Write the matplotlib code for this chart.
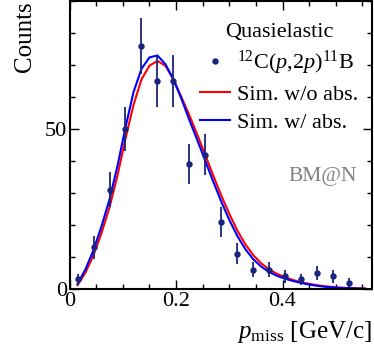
import numpy as np
import matplotlib
matplotlib.use("Agg")
import matplotlib.pyplot as plt
from matplotlib.lines import Line2D
from matplotlib.ticker import MultipleLocator, FixedLocator

plt.rcParams['font.family'] = ['Liberation Serif', 'DejaVu Serif']
plt.rcParams['mathtext.fontset'] = 'custom'
plt.rcParams['mathtext.rm'] = 'Liberation Serif'
plt.rcParams['mathtext.it'] = 'Liberation Serif:italic'

# measured p_miss distribution (bin centres, counts, errors)
p_miss = [0.015, 0.045, 0.075, 0.105, 0.135, 0.165, 0.195, 0.225, 0.255,
          0.285, 0.315, 0.345, 0.375, 0.405, 0.435, 0.465, 0.495, 0.525]
counts = [3, 13, 31, 50, 76, 65, 65, 39, 42, 21, 11, 6, 6, 4, 3, 5, 4, 2]
errors = [1.7, 3.6, 5.5, 7.0, 8.7, 8.0, 8.0, 6.2, 6.5, 4.6, 3.3, 2.4, 2.4,
          2.0, 1.7, 2.2, 2.0, 1.4]

# simulation curves
sim_x = [0.015, 0.03, 0.045, 0.06, 0.075, 0.09, 0.105, 0.12, 0.135, 0.15,
         0.165, 0.18, 0.195, 0.21, 0.225, 0.24, 0.255, 0.27, 0.285, 0.30,
         0.315, 0.33, 0.345, 0.36, 0.375, 0.39, 0.405, 0.42, 0.435, 0.45,
         0.465, 0.48, 0.495, 0.51, 0.525, 0.54, 0.555]
sim_noabs = [1.2, 5.2, 10.6, 17.5, 25.5, 35.5, 47.0, 57.5, 65.5, 69.8,
             71.3, 69.8, 65.6, 60.0, 54.3, 48.2, 41.8, 35.4, 29.2, 23.5,
             18.3, 14.0, 10.6, 8.0, 6.1, 4.7, 3.7, 2.8, 2.1, 1.6,
             1.2, 0.85, 0.6, 0.42, 0.3, 0.2, 0.14]
sim_abs = [1.6, 6.2, 12.2, 19.6, 28.0, 38.5, 50.5, 61.5, 68.8, 72.4,
           73.0, 70.3, 65.5, 59.5, 52.8, 46.5, 40.0, 33.5, 27.3, 21.6,
           16.6, 12.5, 9.3, 7.0, 5.3, 4.1, 3.2, 2.5, 1.9, 1.4,
           1.0, 0.7, 0.5, 0.35, 0.25, 0.18, 0.12]

navy = '#1a237e'

fig = plt.figure(figsize=(3.74, 3.61), dpi=100)
ax = fig.add_axes([0.186, 0.1994, 0.8087, 0.7976])

ax.plot(sim_x, sim_noabs, color='red', lw=1.5)
ax.plot(sim_x, sim_abs, color='blue', lw=1.5)
ax.errorbar(p_miss, counts, yerr=errors, fmt='o', ms=3.6, color=navy,
            ecolor=navy, elinewidth=1.3, capsize=0)

ax.set_xlim(0, 0.568)
ax.set_ylim(0, 90)
ax.xaxis.set_major_locator(FixedLocator([0, 0.2, 0.4]))
ax.xaxis.set_minor_locator(MultipleLocator(0.05))
ax.yaxis.set_major_locator(FixedLocator([0, 50]))
ax.yaxis.set_minor_locator(MultipleLocator(10))
ax.set_xticklabels(['0', '0.2', '0.4'])
ax.set_yticklabels(['0', '50'])
ax.tick_params(which='both', direction='in', top=True, right=True,
               labelsize=16, width=1.0)
ax.tick_params(axis='x', which='major', length=6.5, pad=2.4)
ax.tick_params(axis='y', which='major', length=6.5, pad=1.8)
ax.tick_params(which='minor', length=3.6)
for s in ax.spines.values():
    s.set_linewidth(1.5)

ax.set_xlabel(r'$p_{\rm miss}$ [GeV/c]', fontsize=18, loc='right')
ax.xaxis.set_label_coords(1.0, -0.105)
ax.set_ylabel('Counts', fontsize=18, loc='top')
ax.yaxis.set_label_coords(-0.11, 1.0)

handles = [Line2D([], [], ls='none', marker='o', ms=3.6, color=navy),
           Line2D([], [], color='red', lw=1.5),
           Line2D([], [], color='blue', lw=1.5)]
labels = [r'$^{12}$C($p$,2$p$)$^{11}$B', 'Sim. w/o abs.', 'Sim. w/ abs.']
ax.legend(handles, labels, title='Quasielastic', loc='upper right',
          bbox_to_anchor=(0.954, 0.925), frameon=False, fontsize=16,
          title_fontsize=16, handlelength=1.35, handletextpad=0.33,
          labelspacing=0.33, borderaxespad=0, borderpad=0)

ax.text(0.838, 0.39, 'BM@N', transform=ax.transAxes, fontsize=15.5,
        color='gray', ha='center', va='center')

fig.savefig('out.png', dpi=100)
